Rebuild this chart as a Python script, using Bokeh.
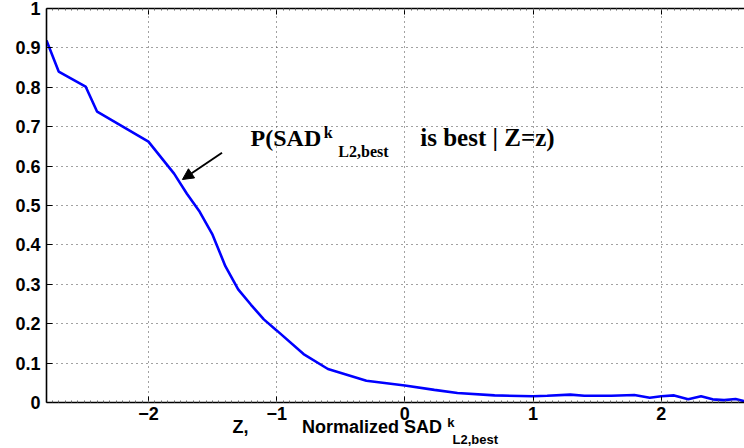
from bokeh.plotting import figure
from bokeh.layouts import column
from bokeh.models import (Label, Arrow, NormalHead, LinearAxis, FixedTicker, Range1d,
                          CustomJSTickFormatter)
from bokeh.embed import file_html
from bokeh.resources import INLINE

# ---- data ----
z_vals = [-2.795, -2.70, -2.49, -2.40, -2.0, -1.80, -1.70, -1.60, -1.50, -1.40,
          -1.30, -1.20, -1.10, -1.00, -0.79, -0.60, -0.30, 0.0, 0.23, 0.41,
          0.70, 1.00, 1.11, 1.29, 1.40, 1.61, 1.79, 1.91, 2.00, 2.10,
          2.21, 2.31, 2.40, 2.49, 2.58, 2.65]
p_best = [0.919, 0.840, 0.802, 0.738, 0.662, 0.581, 0.530, 0.484, 0.426, 0.346,
          0.287, 0.248, 0.211, 0.183, 0.123, 0.085, 0.055, 0.043, 0.032, 0.024,
          0.018, 0.016, 0.017, 0.020, 0.017, 0.017, 0.019, 0.012, 0.016, 0.018,
          0.008, 0.016, 0.008, 0.006, 0.009, 0.003]

x_ticks = [-2, -1, 0, 1, 2]
x_tick_labels = ["\u22122", "\u22121", "0", "1", "2"]
y_ticks = [0, 0.1, 0.2, 0.3, 0.4, 0.5, 0.6, 0.7, 0.8, 0.9, 1]
y_tick_labels = ["0", "0.1", "0.2", "0.3", "0.4", "0.5", "0.6", "0.7", "0.8", "0.9", "1"]
x_minor = [round(-2.8 + 0.05 * i, 2) for i in range(110)]

SANS = "Liberation Sans"
SERIF = "Liberation Serif"

xr = Range1d(-2.795, 2.649)

p = figure(width=744, height=428, x_range=xr, y_range=Range1d(0, 1),
           output_backend="svg", toolbar_location=None,
           min_border_left=46, min_border_right=0, min_border_top=8, min_border_bottom=26)
p.outline_line_color = None
p.background_fill_color = "white"
p.border_fill_color = "white"

p.line(z_vals, p_best, line_color="#0000ff", line_width=2.6)

for ax in (p.xaxis[0], p.yaxis[0]):
    ax.axis_line_color = "black"
    ax.axis_line_width = 1.6
    ax.major_tick_out = 0
    ax.major_tick_in = 6
    ax.major_tick_line_color = "black"
    ax.minor_tick_out = 0
    ax.major_label_text_font = SANS
    ax.major_label_text_font_style = "bold"
    ax.major_label_text_font_size = "18px"
    ax.major_label_text_color = "black"

p.xaxis.ticker = FixedTicker(ticks=x_ticks, minor_ticks=x_minor)
p.xaxis.major_label_overrides = dict(zip(x_ticks, x_tick_labels))
p.xaxis.minor_tick_in = 2
p.xaxis.minor_tick_line_color = "#666666"
p.xaxis.major_label_standoff = 4

p.yaxis.ticker = FixedTicker(ticks=y_ticks)
p.yaxis.major_label_overrides = dict(zip(y_ticks, y_tick_labels))
p.yaxis.minor_tick_in = 0
p.yaxis.major_label_standoff = 6

top = LinearAxis(ticker=FixedTicker(ticks=x_ticks, minor_ticks=x_minor),
                 formatter=CustomJSTickFormatter(code="return ''"))
top.axis_line_color = "black"
top.axis_line_width = 1.6
top.major_tick_out = 0
top.major_tick_in = 6
top.minor_tick_out = 0
top.minor_tick_in = 2
top.minor_tick_line_color = "#666666"
top.major_label_standoff = 0
p.add_layout(top, "above")

p.grid.grid_line_color = "#444444"
p.grid.grid_line_dash = "1 4"
p.grid.grid_line_width = 1
p.xgrid.ticker = FixedTicker(ticks=x_ticks)
p.ygrid.ticker = FixedTicker(ticks=y_ticks)


def lab(fig, x, y, text, size, font, align="left", baseline="alphabetic"):
    fig.add_layout(Label(x=x, y=y, text=text, text_font=font, text_font_style="bold",
                         text_font_size=size, text_color="black", text_align=align,
                         text_baseline=baseline))


# curve annotation
lab(p, -0.652, 0.672, "P(SAD", "24px", SERIF, align="right")
lab(p, -0.632, 0.685, "k", "16px", SERIF)
lab(p, -0.519, 0.636, "L2,best", "16px", SERIF)
lab(p, 0.120, 0.672, "is best | Z=z)", "25px", SERIF)

p.add_layout(Arrow(end=NormalHead(size=11, fill_color="black", line_color="black"),
                   x_start=-1.426, y_start=0.634, x_end=-1.735, y_end=0.566,
                   line_color="black", line_width=2))

# x axis title strip, overlaid on the bottom of the main figure
q = figure(width=744, height=46, x_range=xr, y_range=Range1d(-0.116, 0),
           output_backend="svg", toolbar_location=None,
           min_border_left=46, min_border_right=0, min_border_top=0, min_border_bottom=0,
           margin=(-26, 0, 0, 0))
q.axis.visible = False
q.grid.visible = False
q.outline_line_color = None
q.background_fill_alpha = 0
q.border_fill_alpha = 0

lab(q, -1.345, -0.062, "Z,", "18px", SANS)
lab(q, 0.290, -0.062, "Normalized SAD", "18px", SANS, align="right")
lab(q, 0.330, -0.050, "k", "13px", SANS)
lab(q, 0.372, -0.093, "L2,best", "13px", SANS)

open("out.html", "w").write(file_html(column(p, q), INLINE))
